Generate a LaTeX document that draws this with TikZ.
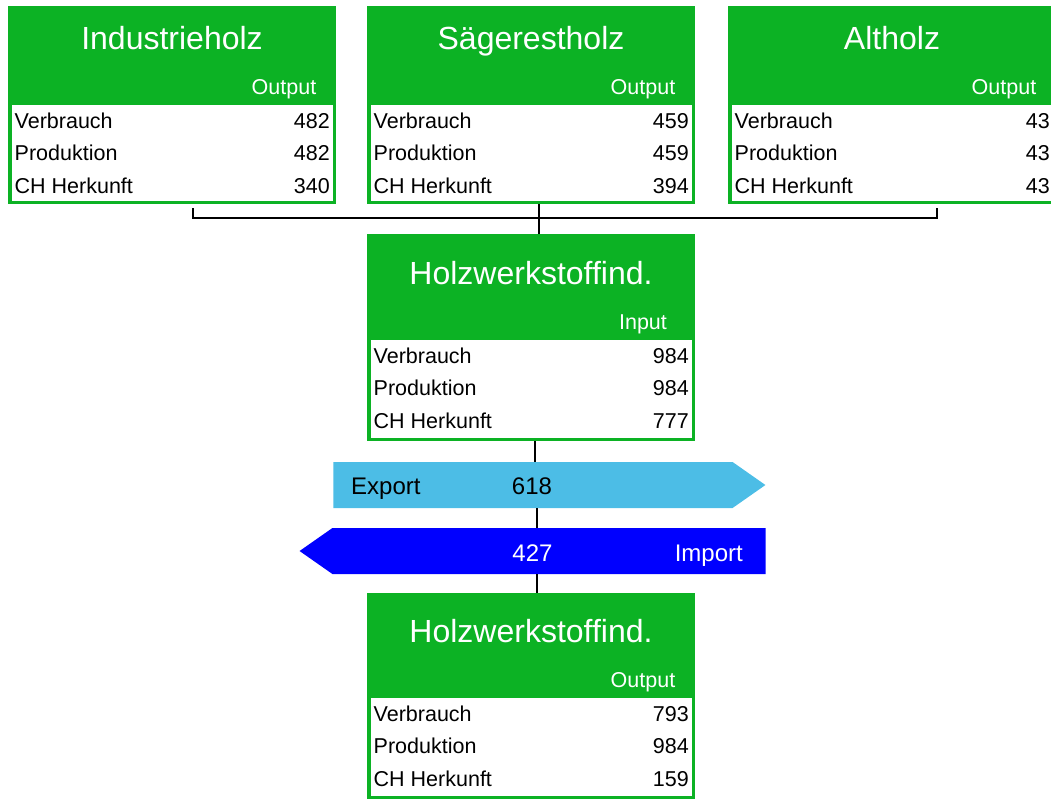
\documentclass[tikz,border=0pt]{standalone}
\usepackage{fontspec}
\setmainfont{Liberation Sans}
\usetikzlibrary{shapes.symbols,calc}
\definecolor{holzgreen}{HTML}{0CB224}
\definecolor{expblue}{HTML}{4CBDE6}
\definecolor{impblue}{HTML}{0000FF}
\tikzset{
  tafel/.style={rectangle,fill=holzgreen,minimum width=328,anchor=north west,inner sep=0,outer sep=0},
  tab/.style={rectangle,fill=white,minimum width=321,inner sep=0,outer sep=0},
  titel/.style={font=\fontsize{32}{36}\selectfont,text=white,inner sep=0,anchor=base},
  kopf/.style={font=\fontsize{21.5}{24}\selectfont,text=white,inner sep=0,anchor=base},
  zeile/.style={font=\fontsize{21.5}{24}\selectfont,inner sep=0,anchor=base west},
  wert/.style={zeile,anchor=base east},
  pfeil/.style={signal,minimum height=46,inner sep=0,outer sep=0,signal pointer angle=70},
  pfeiltext/.style={font=\fontsize{24}{28}\selectfont,inner sep=0},
  linie/.style={draw=black,line width=1.3pt},
}
% #1 name, #2 position, #3 height, #4 header height, #5 title, #6 column head, #7-#9 values
\newcommand{\holzbox}[9]{%
  \node[tafel,minimum height=#3] (#1) at #2 {};
  \node[tab,minimum height=#3-#4-3,anchor=south] (#1-tab) at ([yshift=3pt]#1.south) {};
  \node[titel] (#1-titel) at ([yshift=56pt]#1-tab.north) {#5};
  \node[kopf] (#1-kopf) at ([shift={(-48.5pt,11pt)}]#1-tab.north east) {#6};
  \node[zeile] (#1-l1) at ([shift={(3pt,-23pt)}]#1-tab.north west) {Verbrauch};
  \node[zeile] (#1-l2) at ([shift={(3pt,-55.5pt)}]#1-tab.north west) {Produktion};
  \node[zeile] (#1-l3) at ([shift={(3pt,-88pt)}]#1-tab.north west) {CH Herkunft};
  \node[wert] (#1-v1) at ([shift={(-2.5pt,-23pt)}]#1-tab.north east) {#7};
  \node[wert] (#1-v2) at ([shift={(-2.5pt,-55.5pt)}]#1-tab.north east) {#8};
  \node[wert] (#1-v3) at ([shift={(-2.5pt,-88pt)}]#1-tab.north east) {#9};
}

\begin{document}
\begin{tikzpicture}[x=1pt,y=-1pt]
  \useasboundingbox (0,0) rectangle (1051,798);

  % sources
  \holzbox{ind}{(8,6)}{198}{99}{Industrieholz}{Output}{482}{482}{340}
  \holzbox{saege}{(367,6)}{198}{99}{Sägerestholz}{Output}{459}{459}{394}
  \holzbox{alt}{(728,6)}{198}{99}{Altholz}{Output}{43}{43}{43}

  % wood-based panel industry
  \holzbox{hwi}{(367,234)}{207}{106}{Holzwerkstoffind.}{Input}{984}{984}{777}
  \holzbox{hwo}{(367,593)}{206}{105}{Holzwerkstoffind.}{Output}{793}{984}{159}

  % trade
  \node[pfeil,signal to=east,fill=expblue,minimum width=432] (exp) at (533,485) {};
  \node[pfeil,signal to=west,fill=impblue,minimum width=466] (imp) at (549,551) {};
  \node[pfeiltext,anchor=base west] (exp-l) at (351,494) {Export};
  \node[pfeiltext,anchor=base] (exp-v) at (532,494) {618};
  \node[pfeiltext,anchor=base,text=white] (imp-v) at (532.5,561) {427};
  \node[pfeiltext,anchor=base east,text=white] (imp-l) at (743,561) {Import};

  % connectors
  \coordinate (bl) at (193,208);
  \coordinate (br) at (937,208);
  \draw[linie] (bl) -- ++(0,10) -- ([yshift=-10pt]br) -- (br);
  \draw[linie] ([xshift=8pt]saege.south) -- ([xshift=8pt]saege.south |- hwi.north);
  \draw[linie] ([xshift=4pt]hwi.south) -- ([xshift=4pt]hwi.south |- exp.north);
  \draw[linie] ([xshift=6pt]hwi.south |- exp.south) -- ([xshift=6pt]hwi.south |- imp.north);
  \draw[linie] ([xshift=6pt]hwo.north |- imp.south) -- ([xshift=6pt]hwo.north);
\end{tikzpicture}
\end{document}
